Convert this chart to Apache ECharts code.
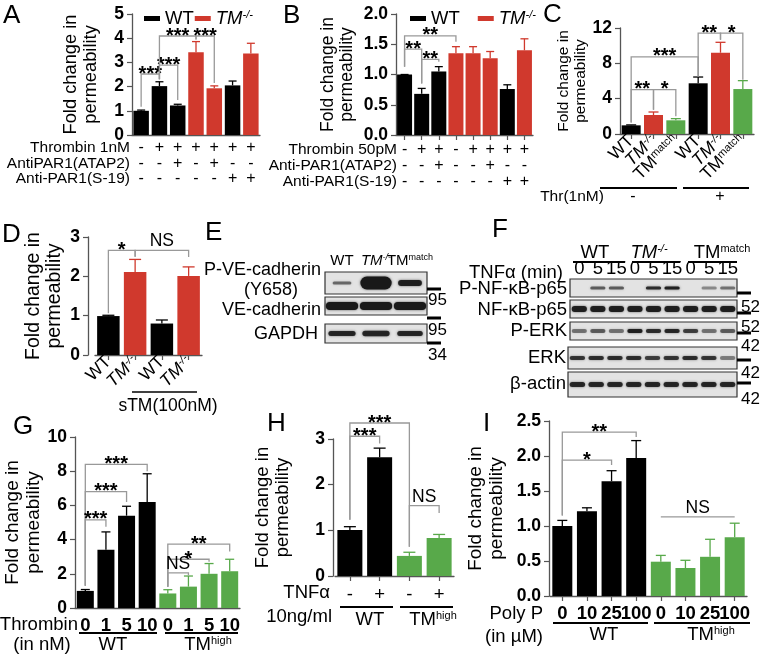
<!DOCTYPE html>
<html><head><meta charset="utf-8">
<script src="https://cdn.jsdelivr.net/npm/echarts@6/dist/echarts.min.js"></script>
<style>html,body{margin:0;padding:0;background:#fff}#c{width:762px;height:658px}</style>
</head><body><div id="c"></div>
<script>
// ================= DATA =================
// Panel A
const A_values = [1.00, 2.02, 1.22, 3.42, 1.93, 2.05, 3.37];
const A_errors = [0.03, 0.18, 0.05, 0.44, 0.10, 0.18, 0.42];
const A_groups = ['WT','WT','WT','KO','KO','WT','KO'];
const A_thrombin = ['-','+','+','+','+','+','+'];
const A_atap2 = ['-','-','+','-','+','-','-'];
const A_s19 = ['-','-','-','-','-','+','+'];
const A_brackets = [[0,1,2.52,1.17,2.30],[1,2,2.89,2.30,1.45],[1,3,4.09,2.30,3.95],[3,4,4.09,3.95,2.15]];
const A_sig = ['***','***','***','***'];
// Panel B
const B_values = [1.00, 0.68, 1.05, 1.35, 1.35, 1.27, 0.76, 1.40];
const B_errors = [0.00, 0.09, 0.08, 0.11, 0.11, 0.11, 0.07, 0.19];
const B_groups = ['WT','WT','WT','KO','KO','KO','WT','KO'];
const B_thrombin = ['-','+','+','-','+','+','+','+'];
const B_atap2 = ['-','-','+','-','-','+','-','-'];
const B_s19 = ['-','-','-','-','-','-','+','+'];
const B_brackets = [[0,3,1.64,1.13,1.54],[0,1,1.42,1.13,0.85],[1,2,1.25,0.85,1.21]];
const B_sig = ['**','**','**'];
// Panel C
const C_values = [0.98, 2.15, 1.55, 5.74, 9.20, 5.09];
const C_errors = [0.05, 0.34, 0.19, 0.71, 1.18, 0.95];
const C_groups = ['WT','KO','MATCH','WT','KO','MATCH'];
const C_brackets = [[0,3,8.72,1.3,6.5],[3,4,11.43,6.5,10.68],[4,5,11.43,10.68,6.15],[0,1,5.02,1.3,2.75],[1,2,5.02,2.75,2.0]];
const C_sig = ['***','**','*','**','*'];
// Panel D
const D_values = [0.99, 2.11, 0.80, 2.01];
const D_errors = [0.02, 0.32, 0.09, 0.23];
const D_groups = ['WT','KO','WT','KO'];
const D_brackets = [[0,1,2.66,1.06,2.50],[1,3,2.66,2.50,2.49]];
const D_sig = ['*','NS'];
// Panel E (western blot band intensities: [darkness, thickness, width fraction])
const E_lanes = ['WT','KO','MATCH'];
const E_rows = ['P-VE-cadherin','VE-cadherin','GAPDH'];
const E_bands = [
  [[0.55,3,0.55],[1.0,13,0.92],[0.95,6,0.7]],
  [[1.0,8,0.95],[1.0,8,0.95],[1.0,8,0.95]],
  [[0.9,5,0.8],[0.9,5.5,0.8],[0.9,5,0.75]]
];
// Panel F
const F_lanes = ['0','5','15','0','5','15','0','5','15'];
const F_rows = ['P-NF-κB-p65','NF-κB-p65','P-ERK','ERK','β-actin'];
const F_dark = [
  [0,0.6,0.6, 0,0.85,0.95, 0,0.4,0.5],
  [0.95,0.95,0.95,0.95,0.95,0.95,0.95,0.95,0.95],
  [0.5,0.6,0.5, 0.95,0.85,0.9, 0.75,0.5,0.6],
  [0.8,0.85,0.85, 0.85,0.75,0.8, 0.85,0.8,0.45],
  [0.9,0.9,0.9, 0.9,0.9,0.9, 0.9,0.9,0.9]
];
const F_thick = [3, 6, 4, 4, 5];
// Panel G
const G_values = [1.00, 3.40, 5.40, 6.20, 0.85, 1.25, 2.00, 2.15];
const G_errors = [0.08, 1.05, 0.55, 1.65, 0.22, 0.62, 0.60, 0.70];
const G_groups = ['WT','WT','WT','WT','HIGH','HIGH','HIGH','HIGH'];
const G_doses = ['0','1','5','10','0','1','5','10'];
const G_brackets = [[0,3,8.4,1.3,8.0],[0,2,6.8,1.3,6.2],[0,1,5.15,1.3,4.75],[4,7,3.74,1.25,3.3],[4,6,2.85,1.25,2.7],[4,5,2.05,1.25,1.9]];
const G_sig = ['***','***','***','**','*','NS'];
// Panel H
const H_values = [1.01, 2.60, 0.44, 0.83];
const H_errors = [0.07, 0.20, 0.08, 0.08];
const H_groups = ['WT','WT','HIGH','HIGH'];
const H_tnf = ['-','+','-','+'];
const H_brackets = [[0,2,3.35,1.23,0.64],[0,1,3.06,1.23,2.9],[2,3,1.54,0.64,1.38]];
const H_sig = ['***','***','NS'];
// Panel I
const I_values = [1.00, 1.21, 1.64, 1.97, 0.49, 0.40, 0.56, 0.84];
const I_errors = [0.08, 0.05, 0.15, 0.25, 0.09, 0.11, 0.25, 0.20];
const I_groups = ['WT','WT','WT','WT','HIGH','HIGH','HIGH','HIGH'];
const I_doses = ['0','10','25','100','0','10','25','100'];
const I_brackets = [[0,3,2.34,1.15,2.27],[0,2,1.94,1.15,1.87],[4,7,1.13,1.13,1.13]];
const I_sig = ['**','*','NS'];

// ================= STYLE =================
const FONT = '"Liberation Sans", Arial, Helvetica, sans-serif';
const COLORS = {WT:'#000000', KO:'#d0392d', MATCH:'#58a94a', HIGH:'#58a94a'};
const AX = '#555555';
const BR = '#999999';

function richFor(size, weight){
  const base = {fontSize:size, fontFamily:FONT, color:'#000', fontWeight: weight||'normal'};
  const s = Math.round(size*0.62);
  return {
    n: Object.assign({}, base),
    it: Object.assign({}, base, {fontStyle:'italic'}),
    sup: Object.assign({}, base, {fontSize:s, verticalAlign:'top'}),
    isup: Object.assign({}, base, {fontSize:s, fontStyle:'italic', verticalAlign:'top'})
  };
}
function groupLabel(k){
  if (k==='KO') return '{it|TM}{isup|-/-}';
  if (k==='MATCH') return '{n|TM}{sup|match}';
  if (k==='HIGH') return '{n|TM}{sup|high}';
  return '{n|WT}';
}

const grids=[], xAxes=[], yAxes=[], series=[];

function addPanel(cfg){
  const gi = grids.length;
  grids.push({left:cfg.box[0], top:cfg.box[1], width:cfg.box[2], height:cfg.box[3]});
  xAxes.push({type:'category', gridIndex:gi, data:cfg.values.map((_,i)=>String(i)),
    axisLine:{lineStyle:{color:AX, width:1.3}},
    axisTick:{show:!!cfg.xTicks, alignWithLabel:true, length:5, lineStyle:{color:AX, width:1.2}},
    axisLabel:Object.assign({interval:0, color:'#000', fontFamily:FONT}, cfg.xLabel)});
  const ts = cfg.titleSize || 18.5;
  yAxes.push({type:'value', gridIndex:gi, min:0, max:cfg.max, interval:cfg.interval, offset:cfg.yOffset||0,
    splitLine:{show:false},
    axisLine:{show:true, lineStyle:{color:AX, width:1.3}},
    axisTick:{show:true, length:5, lineStyle:{color:AX, width:1.2}},
    axisLabel:{fontWeight:'bold', fontSize:17.5, color:'#000', fontFamily:FONT, margin:cfg.yMargin||8,
      formatter: cfg.yFmt || (v=>String(v))},
    name:'Fold change in\npermeability', nameLocation:'middle', nameRotate:90, nameGap:cfg.nameGap,
    nameTextStyle:{fontSize:ts, lineHeight:ts*1.08, fontFamily:FONT, color:'#000'}});
  const used = [];
  cfg.groups.forEach(g=>{ if(used.indexOf(g)<0) used.push(g); });
  used.forEach(g=>{
    series.push({type:'bar', name: cfg.legend ? (g==='KO'?'TM':g) : undefined,
      xAxisIndex:gi, yAxisIndex:gi, barWidth:cfg.barWidth, barGap:'-100%',
      data: cfg.values.map((v,i)=>cfg.groups[i]===g ? v : '-'),
      itemStyle:{color:COLORS[g]}, animation:false, silent:true});
  });
  // error bars
  series.push({type:'custom', xAxisIndex:gi, yAxisIndex:gi, z:3, animation:false, silent:true,
    encode:{x:0, y:[1,2]},
    data: cfg.values.map((v,i)=>[i, v, v + cfg.errors[i]]),
    renderItem:(params, api)=>{
      const i = api.value(0), v = api.value(1), top = api.value(2);
      const p0 = api.coord([i, v]), p1 = api.coord([i, top]);
      const col = COLORS[cfg.groups[params.dataIndex]];
      const cw = cfg.capW || 8;
      return {type:'group', children:[
        {type:'line', shape:{x1:p0[0],y1:p0[1],x2:p1[0],y2:p1[1]}, style:{stroke:col, lineWidth:1.3}},
        {type:'line', shape:{x1:p1[0]-cw/2,y1:p1[1],x2:p1[0]+cw/2,y2:p1[1]}, style:{stroke:col, lineWidth:1.3}}
      ]};
    }});
  // significance brackets
  series.push({type:'custom', xAxisIndex:gi, yAxisIndex:gi, z:4, animation:false, silent:true,
    encode:{x:[0,1], y:[2,3,4]},
    data: cfg.brackets,
    renderItem:(params, api)=>{
      const x1=api.value(0), x2=api.value(1), y=api.value(2), d1=api.value(3), d2=api.value(4);
      const a=api.coord([x1,d1]), b=api.coord([x1,y]), c=api.coord([x2,y]), d=api.coord([x2,d2]);
      const lab = cfg.sig[params.dataIndex];
      const star = lab.indexOf('*')>=0;
      return {type:'group', children:[
        {type:'polyline', shape:{points:[a,b,c,d]}, style:{stroke:BR, lineWidth:1.3, fill:null}},
        {type:'text', x:(b[0]+c[0])/2, y:b[1] + (star ? 10 : 0),
          style:{text:lab, fontSize: star?20:17.5, fontWeight: star?'bold':'normal', fontFamily:FONT, fill:'#000', align:'center', verticalAlign:'bottom'}}
      ]};
    }});
  return gi;
}

// ---- chart panels ----
addPanel({values:A_values, errors:A_errors, groups:A_groups, brackets:A_brackets, sig:A_sig, legend:true,
  box:[132,14,128,121], max:5, interval:1, barWidth:15.5, nameGap:31, capW:8, titleSize:18.3,
  xLabel:{fontSize:16, lineHeight:15.5, margin:5, formatter:(v,i)=>[A_thrombin[i],A_atap2[i],A_s19[i]].join('\n')}});
addPanel({values:B_values, errors:B_errors, groups:B_groups, brackets:B_brackets, sig:B_sig, legend:true,
  box:[396,14,137,121], max:2, interval:0.5, barWidth:15, nameGap:39, xTicks:true, capW:8, titleSize:17.5,
  yFmt:v=>v.toFixed(1),
  xLabel:{fontSize:16, lineHeight:16, margin:7, formatter:(v,i)=>[B_thrombin[i],B_atap2[i],B_s19[i]].join('\n')}});
addPanel({values:C_values, errors:C_errors, groups:C_groups, brackets:C_brackets, sig:C_sig,
  box:[620,28,134,106], max:12, interval:4, barWidth:19, nameGap:22, xTicks:true, capW:10, titleSize:15.5,
  xLabel:{rotate:45, margin:4, formatter:(v,i)=>groupLabel(C_groups[i]), rich:richFor(17.5)}});
addPanel({values:D_values, errors:D_errors, groups:D_groups, brackets:D_brackets, sig:D_sig,
  box:[95,237,107,118], max:3, interval:1, barWidth:22.5, nameGap:23, yOffset:7, xTicks:true, capW:12, titleSize:19.5,
  xLabel:{rotate:45, margin:4, formatter:(v,i)=>groupLabel(D_groups[i]), rich:richFor(17.5)}});
addPanel({values:G_values, errors:G_errors, groups:G_groups, brackets:G_brackets, sig:G_sig,
  box:[75,437,165,171], max:10, interval:2, barWidth:17, nameGap:23, capW:9, titleSize:19,
  xLabel:{fontSize:18.5, fontWeight:'bold', margin:8, formatter:(v,i)=>G_doses[i]}});
addPanel({values:H_values, errors:H_errors, groups:H_groups, brackets:H_brackets, sig:H_sig,
  box:[335,439,119,137], max:3, interval:1, barWidth:25, nameGap:40, yOffset:2, xTicks:true, capW:12, titleSize:18.5,
  xLabel:{fontSize:18.5, margin:9, formatter:(v,i)=>H_tnf[i]}});
addPanel({values:I_values, errors:I_errors, groups:I_groups, brackets:I_brackets, sig:I_sig,
  box:[550,421,197,175], max:2.5, interval:0.5, barWidth:20, nameGap:42, yOffset:1, xTicks:true, capW:10, titleSize:19,
  yFmt:v=>v.toFixed(1),
  xLabel:{fontSize:18.5, fontWeight:'bold', margin:8, formatter:(v,i)=>I_doses[i]}});

// ---- blot rows ----
function addBlotRow(box, lanes, bands, header){
  const gi = grids.length;
  grids.push({left:box[0], top:box[1], width:box[2], height:box[3], show:true,
    backgroundColor:'#e3e3e3', borderColor:'#333', borderWidth:1.2});
  xAxes.push({type:'category', gridIndex:gi, data:lanes.map((_,i)=>String(i)), position:'top',
    axisLine:{show:false}, axisTick:{show:false},
    axisLabel:header ? Object.assign({show:true, interval:0, color:'#000', fontFamily:FONT}, header) : {show:false}});
  yAxes.push({type:'category', gridIndex:gi, data:['r'], show:false});
  series.push({type:'custom', xAxisIndex:gi, yAxisIndex:gi, animation:false, silent:true, z:5,
    encode:{x:0, y:-1},
    data: bands.map((b,i)=>[i, b[0], b[1], b[2]]),
    renderItem:(params, api)=>{
      const dark = api.value(1); if (!dark) return null;
      const th = api.value(2), wf = api.value(3);
      const c = api.coord([api.value(0), 0]);
      const laneW = api.size([1,0])[0];
      const w = laneW*wf;
      return {type:'rect', shape:{x:c[0]-w/2, y:c[1]-th/2, width:w, height:th, r:th/2},
        style:{fill:'rgba(25,25,25,'+dark+')', shadowBlur:2.5, shadowColor:'rgba(25,25,25,'+(dark*0.7)+')'}};
    }});
}
const E_boxes = [[325,272,102,22],[325,297,102,18],[325,324,102,19]];
E_rows.forEach((r,ri)=>addBlotRow(E_boxes[ri], E_lanes, E_bands[ri],
  ri===0 ? {fontSize:15, margin:4, formatter:(v,i)=>groupLabel(E_lanes[i]), rich:richFor(15)} : null));
const F_boxes = [[570,279,167,18],[570,300,167,18],[570,322,167,18],[568,347,169,22],[568,372,169,25]];
F_rows.forEach((r,ri)=>addBlotRow(F_boxes[ri], F_lanes,
  F_dark[ri].map(d=>[d, F_thick[ri], 0.82]),
  ri===0 ? {fontSize:18.5, margin:1, formatter:(v,i)=>F_lanes[i]} : null));

// ---- annotations (text / lines) ----
const graphics = [];
function T(text, x, y, size, align, extra){
  graphics.push({type:'text', x:x, y:y, silent:true, style:Object.assign({text:text, fontSize:size, fontFamily:FONT, fill:'#000',
    align:align||'center', verticalAlign:'middle'}, extra||{})});
}
function R(text, x, y, size, align){
  graphics.push({type:'text', x:x, y:y, silent:true, style:{text:text, rich:richFor(size), align:align||'center', verticalAlign:'middle'}});
}
function L(x1, y1, x2, y2, w){
  graphics.push({type:'line', silent:true, shape:{x1:x1,y1:y1,x2:x2,y2:y2}, style:{stroke:'#000', lineWidth:w||2}});
}
function M(x, y){ graphics.push({type:'rect', silent:true, shape:{x:x, y:y-1.5, width:14, height:3}, style:{fill:'#000'}}); }

[['A',3,16],['B',283,16],['C',543,15],['D',2,235],['E',205,233],['F',492,230],['G',13,427],['H',267,424],['I',483,424]]
  .forEach(p=>T(p[0], p[1], p[2], 26, 'left'));
// A
T('Thrombin 1nM',130,148,15.5,'right'); T('AntiPAR1(ATAP2)',130,164,15.5,'right'); T('Anti-PAR1(S-19)',130,179,15.5,'right');
// B
T('Thrombin 50pM',397,150,15.5,'right'); T('Anti-PAR1(ATAP2)',397,166,15.5,'right'); T('Anti-PAR1(S-19)',397,182,15.5,'right');
// C
T('Thr(1nM)',572,197,15.5); T('-',633,197,16); T('+',720,197,16);
L(600,188,677,188); L(683,188,749,188);
// D
L(132,392,197,392,1.3); T('sTM(100nM)',168,406,17.5);
// E
T('P-VE-cadherin',321,270,18,'right'); T('(Y658)',271,290,18); T('VE-cadherin',321,310,18,'right'); T('GAPDH',318,334,18,'right');
M(427,289); M(427,318); M(427,343);
T('95',428,300,17,'left'); T('95',428,330,17,'left'); T('34',428,355,17,'left');
// F
R('{n|WT}',595,253,18.5); R('{it|TM}{isup|-/-}',649,253,18.5); R('{n|TM}{sup|match}',722,253,18.5);
L(573,262,625,262); L(632,262,680,262); L(688,262,737,262);
T('TNFα (min)',563,273,18.5,'right');
T('P-NF-κB-p65',567,289,18.5,'right'); T('NF-κB-p65',567,310,18.5,'right'); T('P-ERK',567,331,18.5,'right');
T('ERK',566,358,18.5,'right'); T('β-actin',566,384,18.5,'right');
M(737,293); M(737,313); M(737,333); M(737,360); M(737,383);
T('52',741,307,17,'left'); T('52',741,327,17,'left'); T('42',741,346,17,'left'); T('42',741,373,17,'left'); T('42',741,399,17,'left');
// G
T('Thrombin',78,625,18.5,'right'); T('(in nM)',42,645,18.5);
L(79,633,157,633); L(165,633,238,633);
R('{n|WT}',113,645,18.5); R('{n|TM}{sup|high}',208,645,18.5);
// H
T('TNFα',330,593,18.5,'right'); T('10ng/ml',332,617,18.5,'right');
L(340,607,393,607); L(400,607,453,607);
R('{n|WT}',370,620,18.5); R('{n|TM}{sup|high}',433,620,18.5);
// I
T('Poly P',543,614,18.5,'right'); T('(in µM)',543,637,18.5,'right');
L(553,623,648,623); L(654,623,750,623);
R('{n|WT}',604,635,18.5); R('{n|TM}{sup|high}',711,635,18.5);

const legendCommon = {icon:'rect', itemWidth:16, itemHeight:5, orient:'horizontal', selectedMode:false,
  textStyle:{fontSize:18.5, fontFamily:FONT, color:'#000', rich:richFor(18.5)},
  formatter:n=> n==='TM' ? '{it|TM}{isup|-/-}' : '{n|WT}', data:['WT','TM']};

const chart = echarts.init(document.getElementById('c'), null, {renderer:'canvas'});
chart.setOption({
  backgroundColor:'#fff', animation:false,
  textStyle:{fontFamily:FONT},
  grid:grids, xAxis:xAxes, yAxis:yAxes, series:series,
  legend:[Object.assign({left:139, top:4, itemGap:1}, legendCommon), Object.assign({left:405, top:4, itemGap:18}, legendCommon)],
  graphic:graphics
});
</script>
</body></html>
